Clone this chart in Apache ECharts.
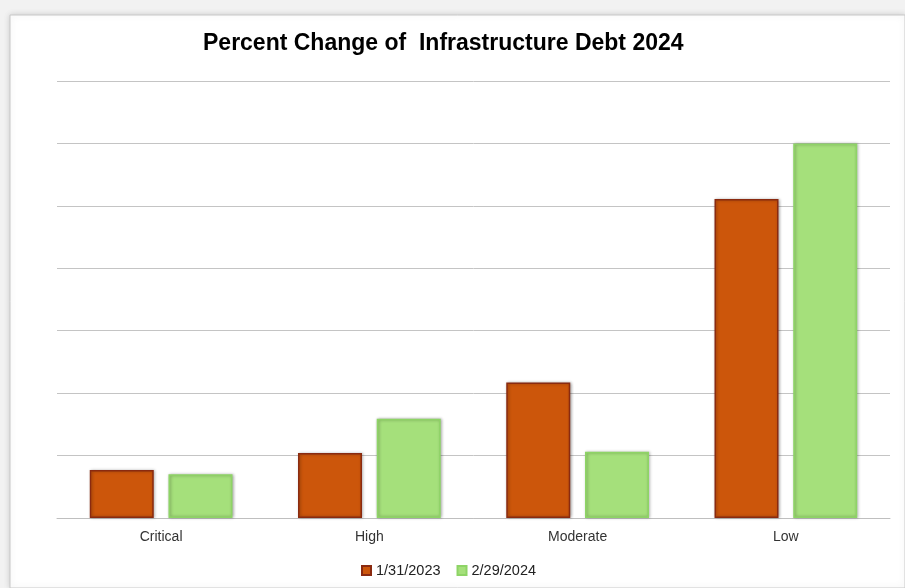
<!DOCTYPE html>
<html>
<head>
<meta charset="utf-8">
<script src="https://cdn.jsdelivr.net/npm/echarts@6/dist/echarts.min.js"></script>
<style>
  html, body { margin: 0; padding: 0; background: #f2f2f2; }
  #chart { width: 905px; height: 588px; }
</style>
</head>
<body>
<div id="chart"></div>
<script>
// Datos del gráfico
const categories = ['Critical', 'High', 'Moderate', 'Low'];
const values2023 = [0.77, 1.04, 2.17, 5.11];
const values2024 = [0.70, 1.59, 1.06, 6.0];
const seriesNames = ['1/31/2023', '2/29/2024'];

const chart = echarts.init(document.getElementById('chart'));

const option = {
    backgroundColor: '#f2f2f2',
    animation: false,
    graphic: [
        {
            type: 'rect',
            shape: { x: 10, y: 15, width: 895, height: 573 },
            style: { fill: '#ffffff', stroke: '#c8c8c8', lineWidth: 1, shadowBlur: 6, shadowColor: 'rgba(0,0,0,0.15)' },
            z: -10
        }
    ],
    title: {
        text: 'Percent Change of  Infrastructure Debt 2024',
        left: 198,
        top: 27,
        textStyle: {
            fontFamily: 'Liberation Sans, sans-serif',
            fontSize: 23,
            fontWeight: 'bold',
            color: '#000000'
        }
    },
    legend: {
        bottom: 5,
        left: 356,
        itemWidth: 9,
        itemHeight: 9,
        itemGap: 16,
        icon: 'rect',
        textStyle: { fontFamily: 'Liberation Sans, sans-serif', fontSize: 14.5, color: '#222' },
        data: seriesNames
    },
    grid: { left: 57, right: 15, top: 81, bottom: 70 },
    xAxis: {
        type: 'category',
        data: categories,
        axisTick: { show: false },
        axisLine: { lineStyle: { color: '#bfbfbf', width: 1 } },
        axisLabel: { fontFamily: 'Liberation Sans, sans-serif', fontSize: 14, color: '#333', margin: 12 }
    },
    yAxis: {
        type: 'value',
        min: 0,
        max: 7,
        interval: 1,
        axisLabel: { show: false },
        axisLine: { show: false },
        axisTick: { show: false },
        splitLine: { lineStyle: { color: '#c4c4c4', width: 1 } }
    },
    series: [
        {
            name: seriesNames[0],
            type: 'bar',
            data: values2023,
            barWidth: 64,
            barGap: '23%',
            itemStyle: {
                color: '#cc560b',
                borderColor: '#8a2a10',
                borderWidth: 1.5,
                shadowBlur: 3,
                shadowOffsetX: 1,
                shadowColor: 'rgba(0,0,0,0.3)'
            }
        },
        {
            name: seriesNames[1],
            type: 'bar',
            data: values2024,
            barWidth: 64,
            itemStyle: {
                color: '#a5e07b',
                borderColor: '#8ed466',
                borderWidth: 1.5,
                shadowBlur: 3,
                shadowOffsetX: 1,
                shadowColor: 'rgba(0,0,0,0.3)'
            }
        }
    ]
};

chart.setOption(option);
</script>
</body>
</html>
